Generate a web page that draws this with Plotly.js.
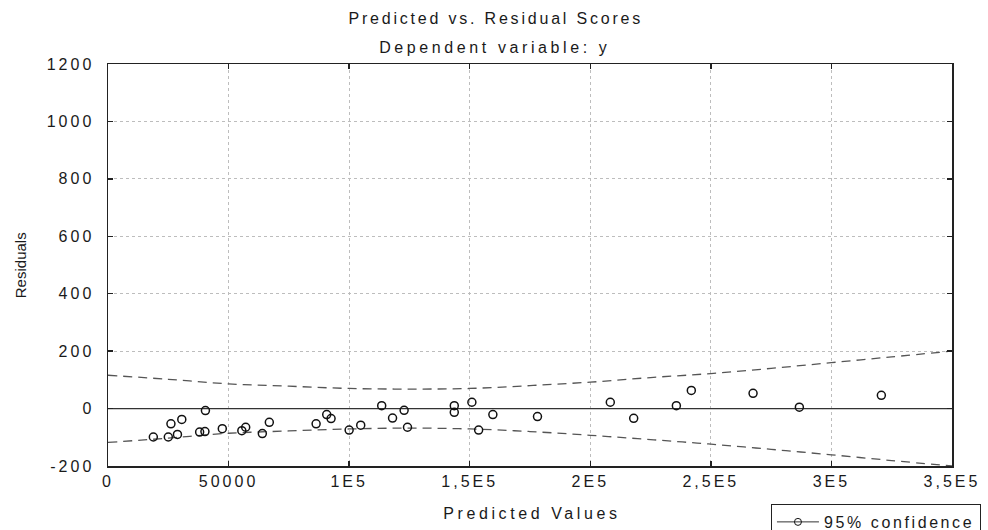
<!DOCTYPE html>
<html>
<head>
<meta charset="utf-8">
<script src="https://cdn.plot.ly/plotly-3.0.1.min.js"></script>
<style>
html,body{margin:0;padding:0;background:#fff;}
#chart{width:988px;height:530px;}
.xtick text, .ytick text{letter-spacing:3px;}
.annotation-text.spaced{letter-spacing:2.8px;}
.annotation-text.wide{letter-spacing:3.6px;}
.legendtext{letter-spacing:2.6px;}
</style>
</head>
<body>
<div id="chart"></div>
<script>
// Observed points: predicted value vs residual
const predicted = [18800, 25000, 26100, 28800, 30600, 38000, 40200, 40400, 47400, 55500, 57100, 64000, 66900,
  86300, 90700, 92500, 100000, 104800, 113500, 118000, 122800, 124200, 143600, 143600, 150900, 153700,
  159600, 178100, 208300, 218000, 235700, 241900, 267500, 286700, 320700];
const residuals = [-99, -99, -53, -90, -38, -82, -80, -7, -70, -77, -65, -87, -48,
  -53, -21, -35, -75, -58, 10, -33, -6, -65, 10, -13, 22, -75,
  -21, -28, 22, -34, 10, 63, 53, 5, 46];

// 95% confidence band
const bandX = [0, 25000, 50000, 75000, 100000, 125000, 150000, 175000, 200000, 225000, 250000, 275000, 300000, 325000, 350000];
const bandUpper = [116, 102, 86, 78, 70, 68, 70, 80, 92, 108, 122, 140, 160, 180, 200];
const bandLower = [-118, -103, -86, -78, -71, -68, -71, -80, -93, -108, -124, -142, -161, -181, -200];

// Regression (zero) line
const zeroX = [0, 350000];
const zeroY = [0, 0];

// Ticks
const xTickVals = [0, 50000, 100000, 150000, 200000, 250000, 300000, 350000];
const xTickText = ['0', '50000', '1E5', '1,5E5', '2E5', '2,5E5', '3E5', '3,5E5'];
const yTickVals = [-200, 0, 200, 400, 600, 800, 1000, 1200];
const yTickText = ['-200', '0', '200', '400', '600', '800', '1000', '1200'];

// Texts
const titleLine1 = 'Predicted vs. Residual Scores';
const titleLine2 = 'Dependent variable: y';
const xTitle = 'Predicted Values';
const yTitle = 'Residuals';
const legendName = '95% confidence';

const sans = 'Arial, "Liberation Sans", sans-serif';
const tickFont = {family: sans, size: 16, color: '#1a1a1a'};
const txtColor = '#1a1a1a';

const traces = [
  {x: zeroX, y: zeroY, mode: 'lines', line: {color: '#333', width: 1.2}, showlegend: false, hoverinfo: 'skip'},
  {x: bandX, y: bandUpper, mode: 'lines', line: {color: '#555', width: 1.3, dash: '9px,6px', shape: 'spline'}, showlegend: false},
  {x: bandX, y: bandLower, mode: 'lines', line: {color: '#555', width: 1.3, dash: '9px,6px', shape: 'spline'}, showlegend: false},
  {x: predicted, y: residuals, mode: 'markers', marker: {symbol: 'circle-open', size: 8, color: '#111', line: {width: 1.5, color: '#111'}}, showlegend: false},
  {x: [null], y: [null], mode: 'lines+markers', name: legendName, line: {color: '#333', width: 1}, marker: {symbol: 'circle-open', size: 7, color: '#111'}, showlegend: true}
];

const axisCommon = {
  showline: true, linecolor: '#222', linewidth: 1.5, mirror: 'ticks',
  ticks: 'inside', ticklen: 5, tickcolor: '#222', tickwidth: 1.5,
  showgrid: true, gridcolor: '#bdbdbd', griddash: 'dot', gridwidth: 1,
  zeroline: false, tickfont: tickFont
};

const layout = {
  width: 988, height: 530,
  margin: {l: 108, r: 36, t: 64, b: 64, autoexpand: false},
  paper_bgcolor: '#fff', plot_bgcolor: '#fff',
  xaxis: Object.assign({}, axisCommon, {
    range: [0, 350000], tickvals: xTickVals, ticktext: xTickText
  }),
  yaxis: Object.assign({}, axisCommon, {
    range: [-200, 1200], tickvals: yTickVals, ticktext: yTickText, ticklabelstandoff: 9
  }),
  annotations: [
    {text: titleLine1, xref: 'paper', yref: 'paper', x: 0.459, y: 1.112, xanchor: 'center', yanchor: 'middle', showarrow: false, font: {family: sans, size: 16, color: txtColor}},
    {text: titleLine2, xref: 'paper', yref: 'paper', x: 0.459, y: 1.040, xanchor: 'center', yanchor: 'middle', showarrow: false, font: {family: sans, size: 16, color: txtColor}},
    {text: xTitle, xref: 'paper', yref: 'paper', x: 0.502, y: -0.117, xanchor: 'center', yanchor: 'middle', showarrow: false, font: {family: sans, size: 16, color: txtColor}},
    {text: yTitle, xref: 'paper', yref: 'paper', x: -0.104, y: 0.5, xanchor: 'center', yanchor: 'middle', textangle: -90, showarrow: false, font: {family: sans, size: 15, color: txtColor}}
  ],
  legend: {x: 0.7855, y: -0.0945, xanchor: 'left', yanchor: 'top', bordercolor: '#222', borderwidth: 1, bgcolor: '#fff',
    itemwidth: 42, font: {family: sans, size: 16, color: txtColor}}
};

Plotly.newPlot('chart', traces, layout, {displayModeBar: false, staticPlot: true}).then(function () {
  const a = document.querySelectorAll('#chart .annotation-text');
  if (a[0]) a[0].classList.add('spaced');
  if (a[1]) a[1].classList.add('wide');
  if (a[2]) a[2].classList.add('wide');
});
</script>
</body>
</html>
